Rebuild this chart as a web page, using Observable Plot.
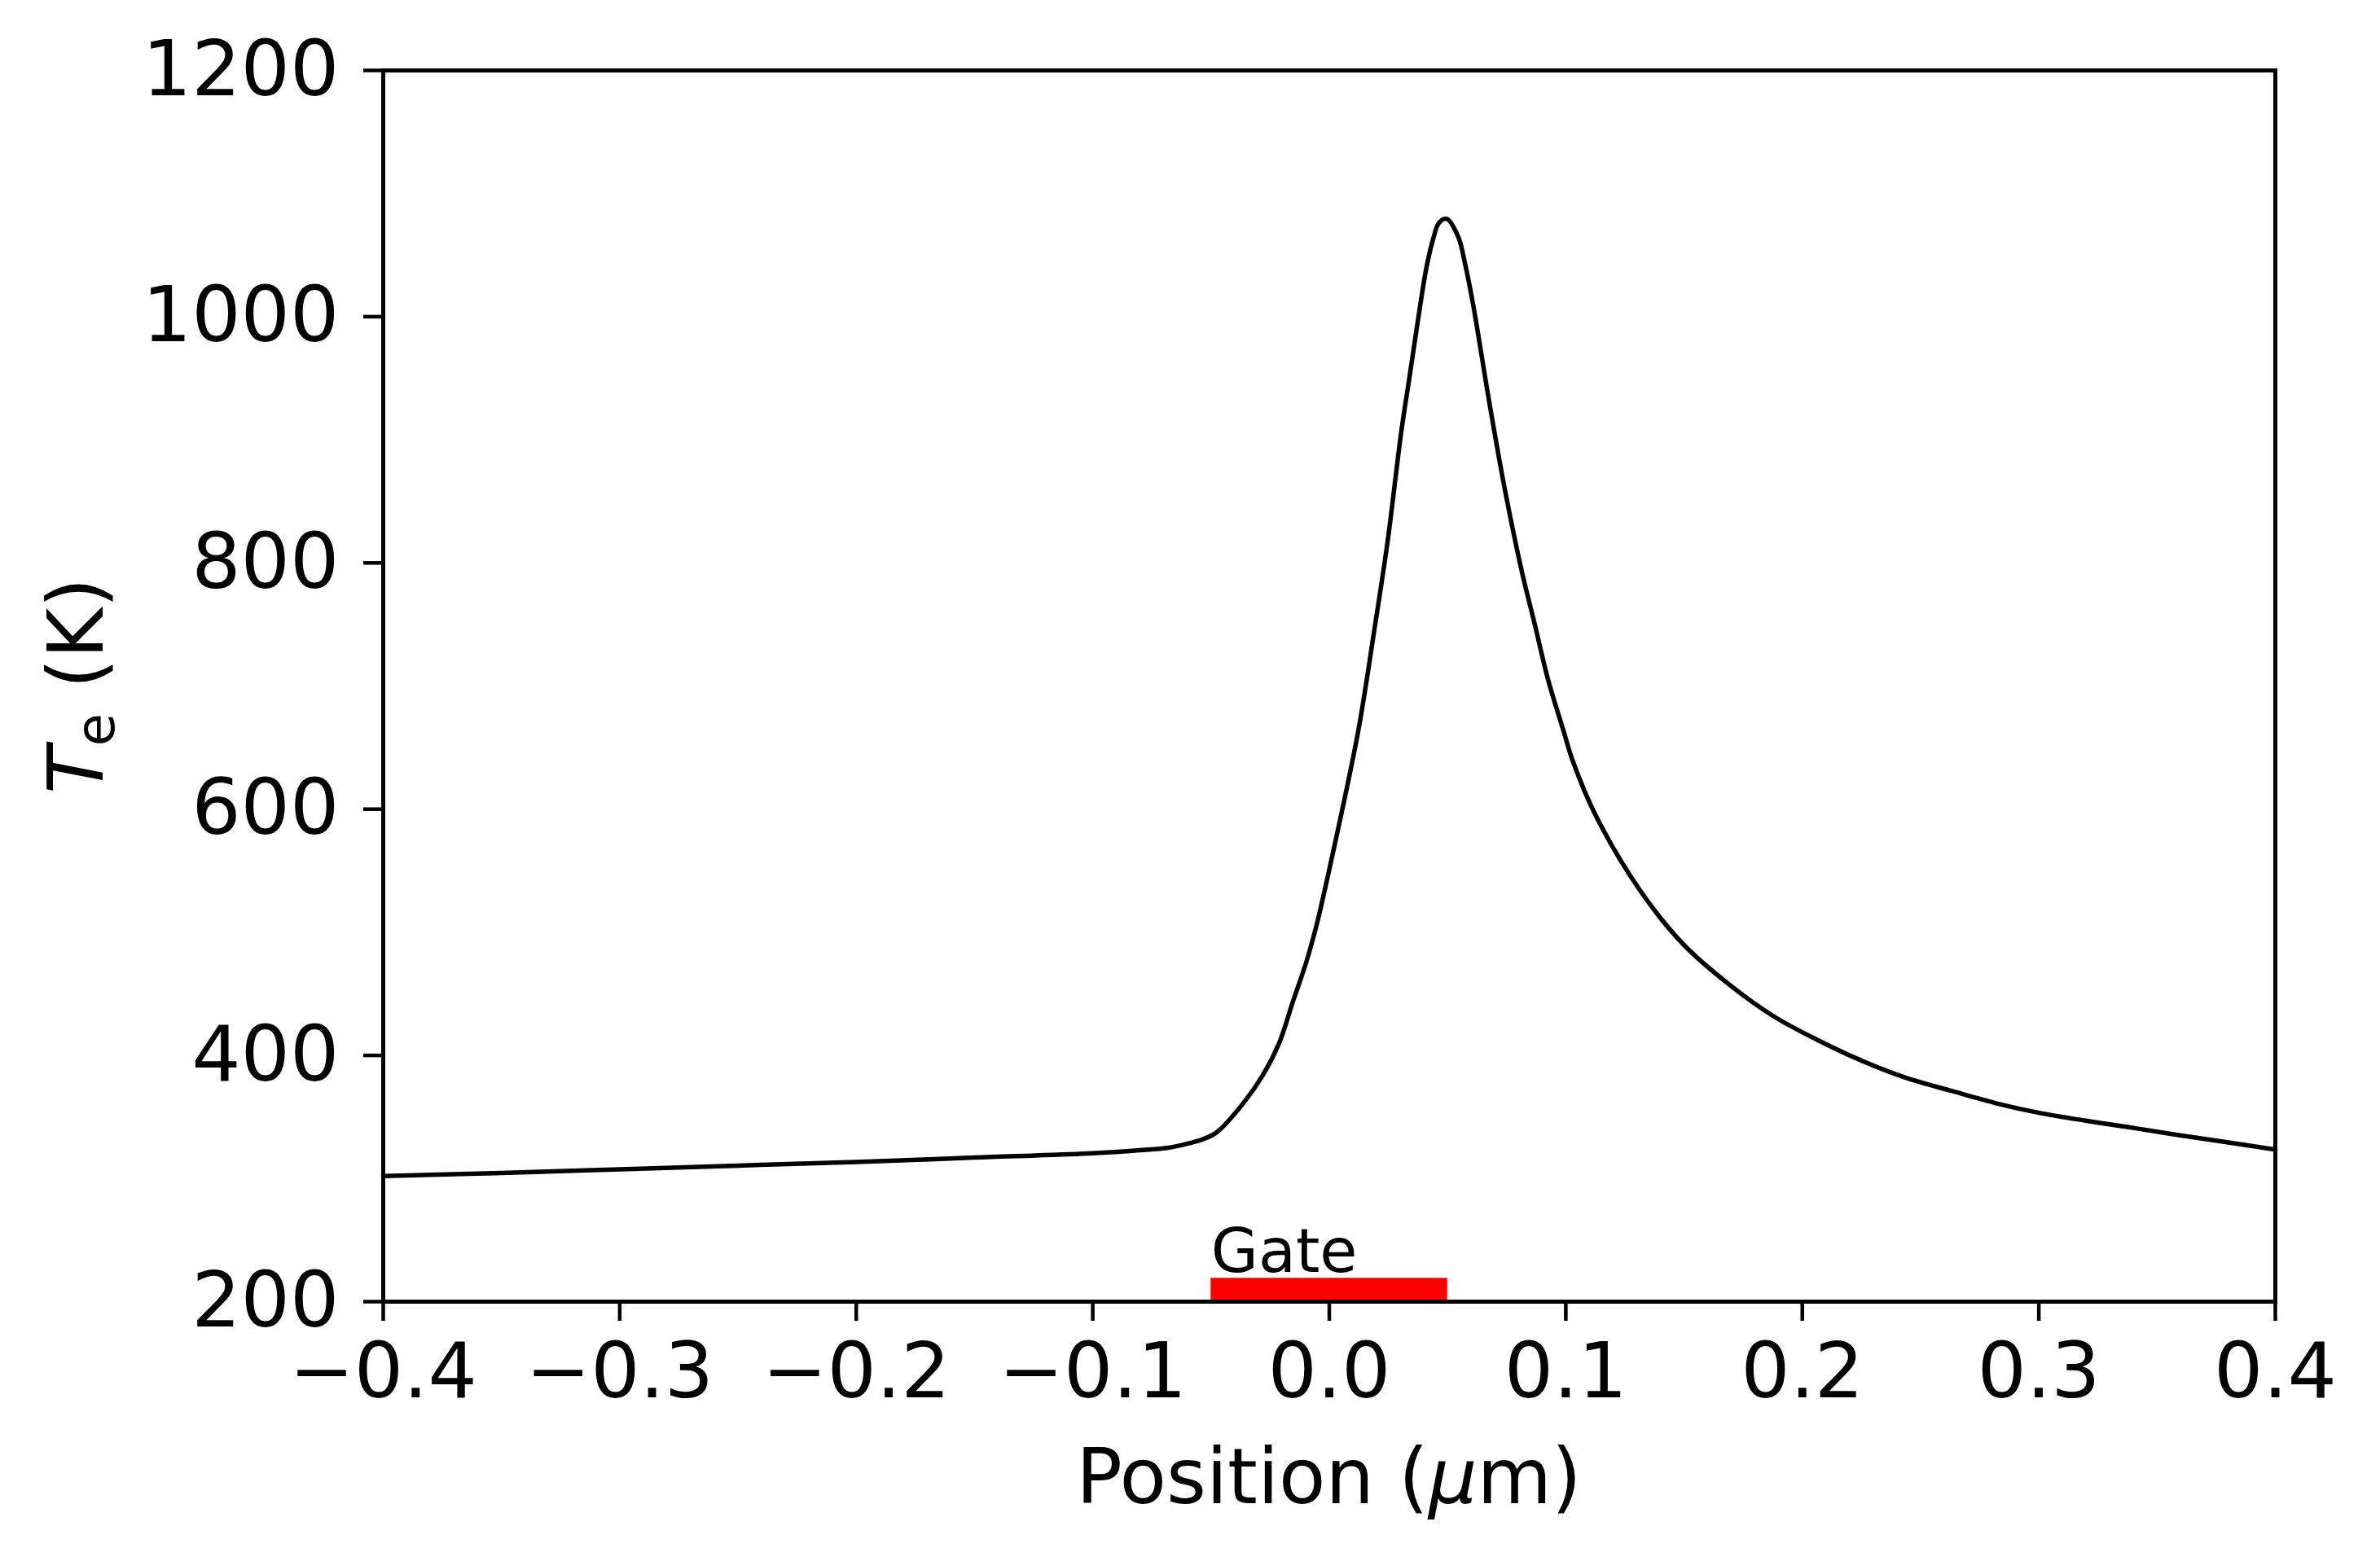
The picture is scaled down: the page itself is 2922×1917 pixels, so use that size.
<!DOCTYPE html>
<html>
<head>
<meta charset="utf-8">
<script src="https://cdn.jsdelivr.net/npm/d3@7"></script>
<script src="https://cdn.jsdelivr.net/npm/@observablehq/plot@0.6"></script>
<style>
  html, body { margin: 0; padding: 0; background: #fff; overflow: hidden; }
  #chart svg { font-family: "DejaVu Sans", sans-serif; display: block; }
</style>
</head>
<body>
<div id="chart"></div>
<script>
// Electron temperature profile
const position = [
  -0.4, -0.35, -0.3, -0.25, -0.2, -0.15, -0.1, -0.08, -0.068, -0.059,
  -0.0533, -0.0476, -0.0361, -0.0281, -0.0212, -0.0155, -0.0097, -0.0051, 0.0, 0.0121,
  0.019, 0.0247, 0.0304, 0.034, 0.0385, 0.0414, 0.0442, 0.0463, 0.0496, 0.0545,
  0.0574, 0.0608, 0.0677, 0.074, 0.0813, 0.0869, 0.0924, 0.0993, 0.1028, 0.1125,
  0.1314, 0.1498, 0.1688, 0.1877, 0.207, 0.2248, 0.2436, 0.2634, 0.2822, 0.301,
  0.3198, 0.3386, 0.358, 0.379, 0.4
];
const electronTemp = [
  302, 304.5, 307.5, 310.5, 313.5, 317, 320.5, 323, 325, 328.8,
  332, 337.6, 361.8, 383.9, 410, 443, 476, 508, 551, 662,
  745, 818, 906, 952, 1010, 1043, 1065, 1076, 1079.5, 1065,
  1043, 1010, 930, 862, 794, 750, 706, 662, 640, 595.5,
  534, 490, 458, 432, 412, 396, 382, 371, 361, 353,
  347, 341.5, 335.6, 329.6, 323.5
];
const xTicks = [-0.4, -0.3, -0.2, -0.1, 0.0, 0.1, 0.2, 0.3, 0.4];
const yTicks = [200, 400, 600, 800, 1000, 1200];
const gateStart = [-0.05];
const gateEnd = [0.05];
const gateBottom = [200];
const gateTop = [219];
const gateLabel = ["Gate"];
const gateLabelY = [224];

const curve = position.map((x, i) => ({x, y: electronTemp[i]}));
const gate = gateStart.map((x1, i) => ({x1, x2: gateEnd[i], y1: gateBottom[i], y2: gateTop[i], label: gateLabel[i], ly: gateLabelY[i]}));

const W = 2922, H = 1917;
const mL = 470, mR = 129, mT = 86, mB = 319;

const chart = Plot.plot({
  width: W,
  height: H,
  marginLeft: mL,
  marginRight: mR,
  marginTop: mT,
  marginBottom: mB,
  style: {fontFamily: "DejaVu Sans", color: "black", background: "white"},
  x: {domain: [-0.4, 0.4]},
  y: {domain: [200, 1200]},
  marks: [
    Plot.rect(gate, {x1: "x1", x2: "x2", y1: "y1", y2: "y2", fill: "#ff0000"}),
    Plot.text(gate, {x: "x1", y: "ly", text: "label", textAnchor: "start", lineAnchor: "bottom", fontSize: 75, fill: "black"}),
    Plot.line(curve, {x: "x", y: "y", stroke: "black", strokeWidth: 5.5, curve: "catmull-rom"}),
    Plot.frame({stroke: "black", strokeWidth: 5}),
    Plot.axisX({ticks: xTicks, tickFormat: d3.format(".1f"), tickSize: 24, tickPadding: 26, fontSize: 95, strokeWidth: 4.5, label: null}),
    Plot.axisY({ticks: yTicks, tickFormat: d3.format("d"), tickSize: 24, tickPadding: 30, fontSize: 95, strokeWidth: 4.5, label: null})
  ]
});

document.getElementById("chart").appendChild(chart);

const svg = d3.select(chart);
// y-axis label: T_e (K)
const yl = svg.append("text")
  .attr("transform", `translate(126, ${(mT + (H - mB)) / 2}) rotate(-90)`)
  .attr("text-anchor", "middle")
  .attr("font-family", "DejaVu Sans")
  .attr("font-size", 95)
  .attr("fill", "black");
yl.append("tspan").attr("font-style", "italic").text("T");
yl.append("tspan").attr("font-size", 66).attr("dy", 14).text("e");
yl.append("tspan").attr("dy", -14).text(" (K)");

// x-axis label: Position (μm)
const xl = svg.append("text")
  .attr("x", (mL + (W - mR)) / 2)
  .attr("y", 1846)
  .attr("text-anchor", "middle")
  .attr("font-family", "DejaVu Sans")
  .attr("font-size", 94)
  .attr("fill", "black");
xl.append("tspan").text("Position (");
xl.append("tspan").attr("font-style", "italic").text("μ");
xl.append("tspan").text("m)");
</script>
</body>
</html>
